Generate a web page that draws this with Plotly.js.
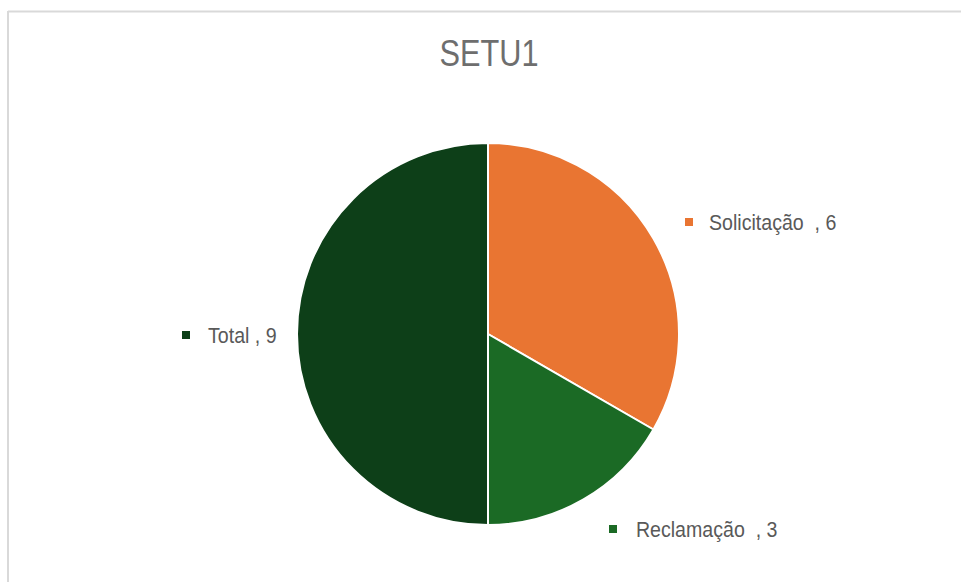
<!DOCTYPE html>
<html>
<head>
<meta charset="utf-8">
<script src="https://cdn.plot.ly/plotly-3.0.1.min.js"></script>
<style>html,body{margin:0;padding:0;background:#fff;}#chart{width:961px;height:582px;}</style>
</head>
<body>
<div id="chart"></div>
<script>
const chartTitle = "SETU1";
const categories = ["Solicitação ", "Reclamação ", "Total"];
const values = [6, 3, 9];
const colors = ["#E97532", "#1B6A25", "#0D3F18"];

const W = 961, H = 582;
const px = x => x / W;
const py = y => 1 - y / H;
const FONT = "'Liberation Sans', Arial, sans-serif";

// label anchor positions (layout only)
const labelPos = [
  {mx: 689, my: 222, tx: 707},
  {mx: 613, my: 529, tx: 634},
  {mx: 186, my: 335, tx: 206}
];

const annotations = [];
const shapes = [
  {type: "line", xref: "paper", yref: "paper", x0: px(8), x1: 1, y0: py(11.5), y1: py(11.5), line: {color: "#d9d9d9", width: 2}},
  {type: "line", xref: "paper", yref: "paper", x0: px(8), x1: px(8), y0: py(11), y1: 0, line: {color: "#d9d9d9", width: 2}}
];

categories.forEach((c, i) => {
  const p = labelPos[i];
  const txt = (c + " , " + values[i]).replace(/ /g, "\u00a0");
  annotations.push({
    xref: "paper", yref: "paper", x: px(p.tx), y: py(p.my), xanchor: "left", yanchor: "middle",
    text: txt, showarrow: false, font: {family: FONT, size: 22, color: "#595959"}
  });
  shapes.push({
    type: "rect", xref: "paper", yref: "paper",
    x0: px(p.mx - 4), x1: px(p.mx + 4), y0: py(p.my - 4), y1: py(p.my + 4),
    fillcolor: colors[i], line: {width: 0}
  });
});

const data = [{
  type: "pie",
  labels: categories,
  values: values,
  sort: false,
  direction: "clockwise",
  rotation: 0,
  textinfo: "none",
  hoverinfo: "label+value",
  marker: {colors: colors, line: {color: "#ffffff", width: 2}},
  domain: {x: [px(297), px(679)], y: [py(525), py(143)]},
  showlegend: false
}];

const layout = {
  width: W, height: H,
  margin: {l: 0, r: 0, t: 0, b: 0},
  paper_bgcolor: "#ffffff",
  showlegend: false,
  title: {
    text: chartTitle, xref: "paper", yref: "paper",
    x: px(489), xanchor: "center", y: py(53), yanchor: "middle",
    font: {family: FONT, size: 37, color: "#6e6e6e"}
  },
  annotations: annotations,
  shapes: shapes
};

Plotly.newPlot("chart", data, layout, {displayModeBar: false, staticPlot: true}).then(gd => {
  // condense text horizontally to mimic the narrow face of the original
  const squeeze = (el, f, keepLeft) => {
    const len = el.getComputedTextLength();
    el.setAttribute("textLength", (len * f).toFixed(1));
    el.setAttribute("lengthAdjust", "spacingAndGlyphs");
    if (keepLeft) {
      const x = parseFloat(el.getAttribute("x") || "0");
      el.setAttribute("x", (x - len * (1 - f) / 2).toFixed(1));
    }
  };
  gd.querySelectorAll(".gtitle").forEach(el => squeeze(el, 0.83, false));
  gd.querySelectorAll(".annotation-text").forEach(el => squeeze(el, 0.89, true));
});
</script>
</body>
</html>
